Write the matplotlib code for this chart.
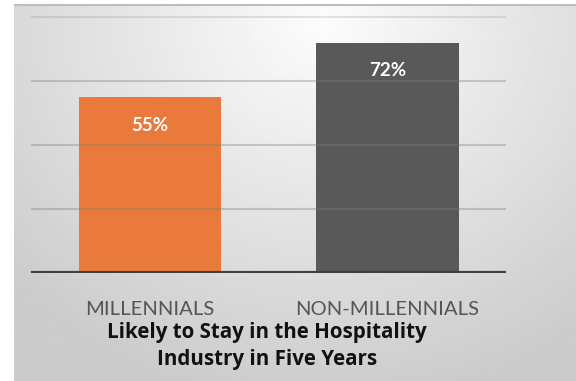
import numpy as np
import matplotlib.pyplot as plt

categories = ['MILLENNIALS', 'NON-MILLENNIALS']
values = [55, 72]
bar_colors = ['#E97A3B', '#595959']
title = 'Likely to Stay in the Hospitality\nIndustry in Five Years'

W, H = 576, 381
fig = plt.figure(figsize=(W / 100, H / 100), dpi=100)
fig.patch.set_facecolor('white')

# gray gradient panel behind everything
bg = fig.add_axes([14 / W, 0, 1 - 14 / W, 377 / H], zorder=0)
yy, xx = np.mgrid[0:1:200j, 0:1:300j]
r = np.sqrt(((xx - 0.55) / 0.75) ** 2 + ((yy - 0.05) / 1.0) ** 2)
shade = 0.99 - 0.19 * np.clip(r, 0, 1)
bg.imshow(shade, cmap='gray', vmin=0, vmax=1, aspect='auto',
          extent=(0, 1, 1, 0), interpolation='bilinear')
bg.plot([0, 1], [0.003, 0.003], color='#bdbdbd', lw=1.5)
bg.set_xlim(0, 1)
bg.set_ylim(1, 0)
bg.axis('off')

ax = fig.add_axes([31 / W, (H - 273) / H, 475 / W, 272 / H], zorder=1)
ax.patch.set_alpha(0)
x = np.arange(len(categories))
ax.bar(x, values, width=0.6, color=bar_colors, zorder=2)
for xi, v in zip(x, values):
    ax.text(xi, v - 8.8, f'{v}%', ha='center', va='center', color='white',
            fontsize=13.5, fontweight='bold', family='Lato', zorder=4)
for g in [20, 40, 60, 80]:
    ax.axhline(g, color='#7a7a7a', alpha=0.35 if g < 80 else 0.2, lw=1.5, zorder=3)
ax.axhline(0, color='#3f3f3f', lw=3, zorder=5)
ax.set_xlim(-0.5, 1.5)
ax.set_ylim(0, 85)
ax.set_yticks([])
ax.set_xticks(x)
ax.set_xticklabels(categories, fontsize=14.6, color='#555555', family='Lato')
ax.tick_params(axis='x', length=0, pad=20)
for s in ax.spines.values():
    s.set_visible(False)

fig.text(267 / W, (H - 346) / H, title, ha='center', va='center',
         fontsize=14.8, fontweight='bold', family='Open Sans', color='#111111',
         linespacing=1.33)

fig.savefig('out.png', dpi=100)
